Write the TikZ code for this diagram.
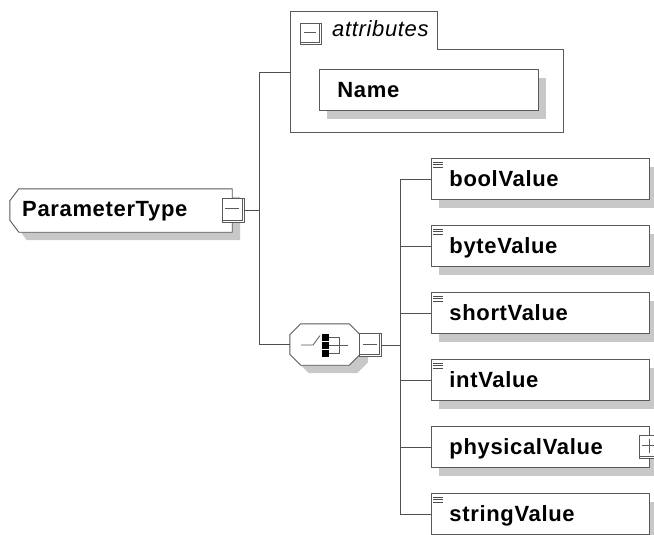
\documentclass[tikz,border=0pt]{standalone}
\usepackage{fontspec}
\setmainfont{Liberation Sans}[LetterSpace=3]
\usetikzlibrary{shadows}
\definecolor{lineg}{HTML}{505050}
\definecolor{boxg}{HTML}{5A5A5A}
\definecolor{shadg}{HTML}{C8C8C8}
\tikzset{
  conn/.style={draw=lineg, line width=0.9pt},
  boxline/.style={draw=boxg, line width=0.9pt},
  elem/.style={draw=boxg, line width=0.9pt, fill=white, anchor=north west,
    minimum width=218pt, minimum height=41pt, inner xsep=0pt, inner ysep=0pt,
    text width=218pt, align=left, text height=17pt, text depth=2pt,
    font=\bfseries\fontsize{22}{26}\selectfont,
    drop shadow={shadow xshift=8pt, shadow yshift=-9pt, fill=shadg, opacity=1}},
  xbox/.style={draw=boxg, fill=white, line width=0.8pt, minimum width=22pt,
    minimum height=23pt, inner sep=0pt},
  icon/.style={draw=boxg, line width=0.6pt},
  lines3/.style={draw=black!70, line width=0.7pt},
}
\begin{document}
\begin{tikzpicture}[x=1pt,y=-1pt]
\useasboundingbox (0,0) rectangle (654,535);

% ---------- attributes group ----------
\node[minimum width=272pt, minimum height=120pt, inner sep=0pt] (attr) at (427,72) {};
\draw[draw=boxg, line width=0.8pt] (attr.north west) -- ([xshift=147pt]attr.north west)
  -- ([shift={(147,38)}]attr.north west) -- ([yshift=-38pt]attr.north east)
  -- (attr.south east) -- (attr.south west) -- cycle;
\node[xbox, minimum width=21pt, minimum height=21pt] (ax) at (311,33.5) {};
\draw[icon] ([shift={(-2.5,1)}]ax.north east) -- ([shift={(-2.5,-2.5)}]ax.south east) -- ([shift={(1,-2.5)}]ax.south west);
\draw[icon] ([shift={(-7,-1)}]ax.center) -- ([shift={(5,-1)}]ax.center);
\node[anchor=base west, inner sep=0pt, font=\itshape\fontsize{22}{26}\selectfont] (attrlabel) at (332,37) {attributes};
\node[elem, minimum width=219pt, text width=219pt] (name) at (319,69) {\hspace*{18pt}Name};

% ---------- ParameterType ----------
\node[minimum width=222pt, minimum height=43pt, inner xsep=0pt, inner ysep=0pt] (pt) at (121,210.5) {};
\fill[shadg, transform canvas={xshift=8pt,yshift=-8pt}] ([xshift=9pt]pt.north west) -- (pt.north east) -- (pt.south east)
  -- ([xshift=9pt]pt.south west) -- ([yshift=12pt]pt.south west) -- ([yshift=-12pt]pt.north west) -- cycle;
\filldraw[boxline, fill=white] ([xshift=9pt]pt.north west) -- (pt.north east) -- (pt.south east)
  -- ([xshift=9pt]pt.south west) -- ([yshift=12pt]pt.south west) -- ([yshift=-12pt]pt.north west) -- cycle;
\node[anchor=base west, inner sep=0pt, font=\bfseries\fontsize{22}{26}\selectfont] (ptlabel) at (22,216) {ParameterType};
\node[xbox, minimum height=24pt] (ptx) at (233,210) {};
\draw[icon] ([shift={(-2.5,1)}]ptx.north east) -- ([shift={(-2.5,-2.5)}]ptx.south east) -- ([shift={(1,-2.5)}]ptx.south west);
\draw[icon] ([shift={(-8,-1.5)}]ptx.center) -- ([shift={(6,-1.5)}]ptx.center);

% ---------- choice ----------
\node[minimum width=70pt, minimum height=41pt, inner sep=0pt] (ch) at (325,344.5) {};
\fill[shadg, transform canvas={xshift=8pt,yshift=-8pt}]
  ([xshift=11pt]ch.north west) -- ([xshift=-11pt]ch.north east) -- ([yshift=-11pt]ch.north east)
  -- ([yshift=11pt]ch.south east) -- ([xshift=-11pt]ch.south east) -- ([xshift=11pt]ch.south west)
  -- ([yshift=11pt]ch.south west) -- ([yshift=-11pt]ch.north west) -- cycle;
\filldraw[boxline, fill=white]
  ([xshift=11pt]ch.north west) -- ([xshift=-11pt]ch.north east) -- ([yshift=-11pt]ch.north east)
  -- ([yshift=11pt]ch.south east) -- ([xshift=-11pt]ch.south east) -- ([xshift=11pt]ch.south west)
  -- ([yshift=11pt]ch.south west) -- ([yshift=-11pt]ch.north west) -- cycle;
% choice icon
\draw[draw=boxg, line width=0.8pt] (301,345) -- (313,345) -- (320,335.5);
\draw[draw=boxg, line width=0.8pt] (322,345) -- (348,345);
\draw[draw=boxg, line width=0.8pt] (329,337.5) -- (339,337.5) -- (339,353) -- (329,353);
\fill[black] (321.5,334) rectangle (329,340.5);
\fill[black] (321.5,342) rectangle (329,348.5);
\fill[black] (321.5,350) rectangle (329,356.5);
\node[xbox] (chx) at (370.5,345) {};
\draw[icon] ([shift={(-2.5,1)}]chx.north east) -- ([shift={(-2.5,-2.5)}]chx.south east) -- ([shift={(1,-2.5)}]chx.south west);
\draw[icon] ([shift={(-8,-0.5)}]chx.center) -- ([shift={(6,-0.5)}]chx.center);

% ---------- elements ----------
\node[elem] (e1) at (431,158) {\hspace*{18pt}boolValue};
\node[elem] (e2) at (431,225) {\hspace*{18pt}byteValue};
\node[elem] (e3) at (431,292) {\hspace*{18pt}shortValue};
\node[elem] (e4) at (431,359) {\hspace*{18pt}intValue};
\node[elem] (e5) at (431,426) {\hspace*{18pt}physicalValue};
\node[elem] (e6) at (431,493) {\hspace*{18pt}stringValue};
\foreach \n in {e1,e2,e3,e4,e6}{
  \draw[lines3] ([shift={(2,4)}]\n.north west) -- ([shift={(12,4)}]\n.north west);
  \draw[lines3] ([shift={(2,6.7)}]\n.north west) -- ([shift={(12,6.7)}]\n.north west);
  \draw[lines3] ([shift={(2,9.4)}]\n.north west) -- ([shift={(12,9.4)}]\n.north west);
}
\node[xbox] (physx) at (650,446.5) {};
\draw[icon] ([shift={(-2.5,1)}]physx.north east) -- ([shift={(-2.5,-2.5)}]physx.south east) -- ([shift={(1,-2.5)}]physx.south west);
\draw[icon] ([shift={(-8,-1)}]physx.center) -- ([shift={(6,-1)}]physx.center);
\draw[icon] ([shift={(-1,-8)}]physx.center) -- ([shift={(-1,6)}]physx.center);

% ---------- connectors ----------
\coordinate (s1) at (259,210);
\draw[conn] (ptx.east) -- (s1);
\draw[conn] (attr.west) -| (s1);
\draw[conn] (ch.west) -| (s1);
\coordinate (s2) at (400,345);
\draw[conn] (chx.east) -- (s2);
\foreach \n in {e1,e2,e3,e4,e5,e6}{
  \draw[conn] (s2) |- (\n.west);
}
\end{tikzpicture}
\end{document}
